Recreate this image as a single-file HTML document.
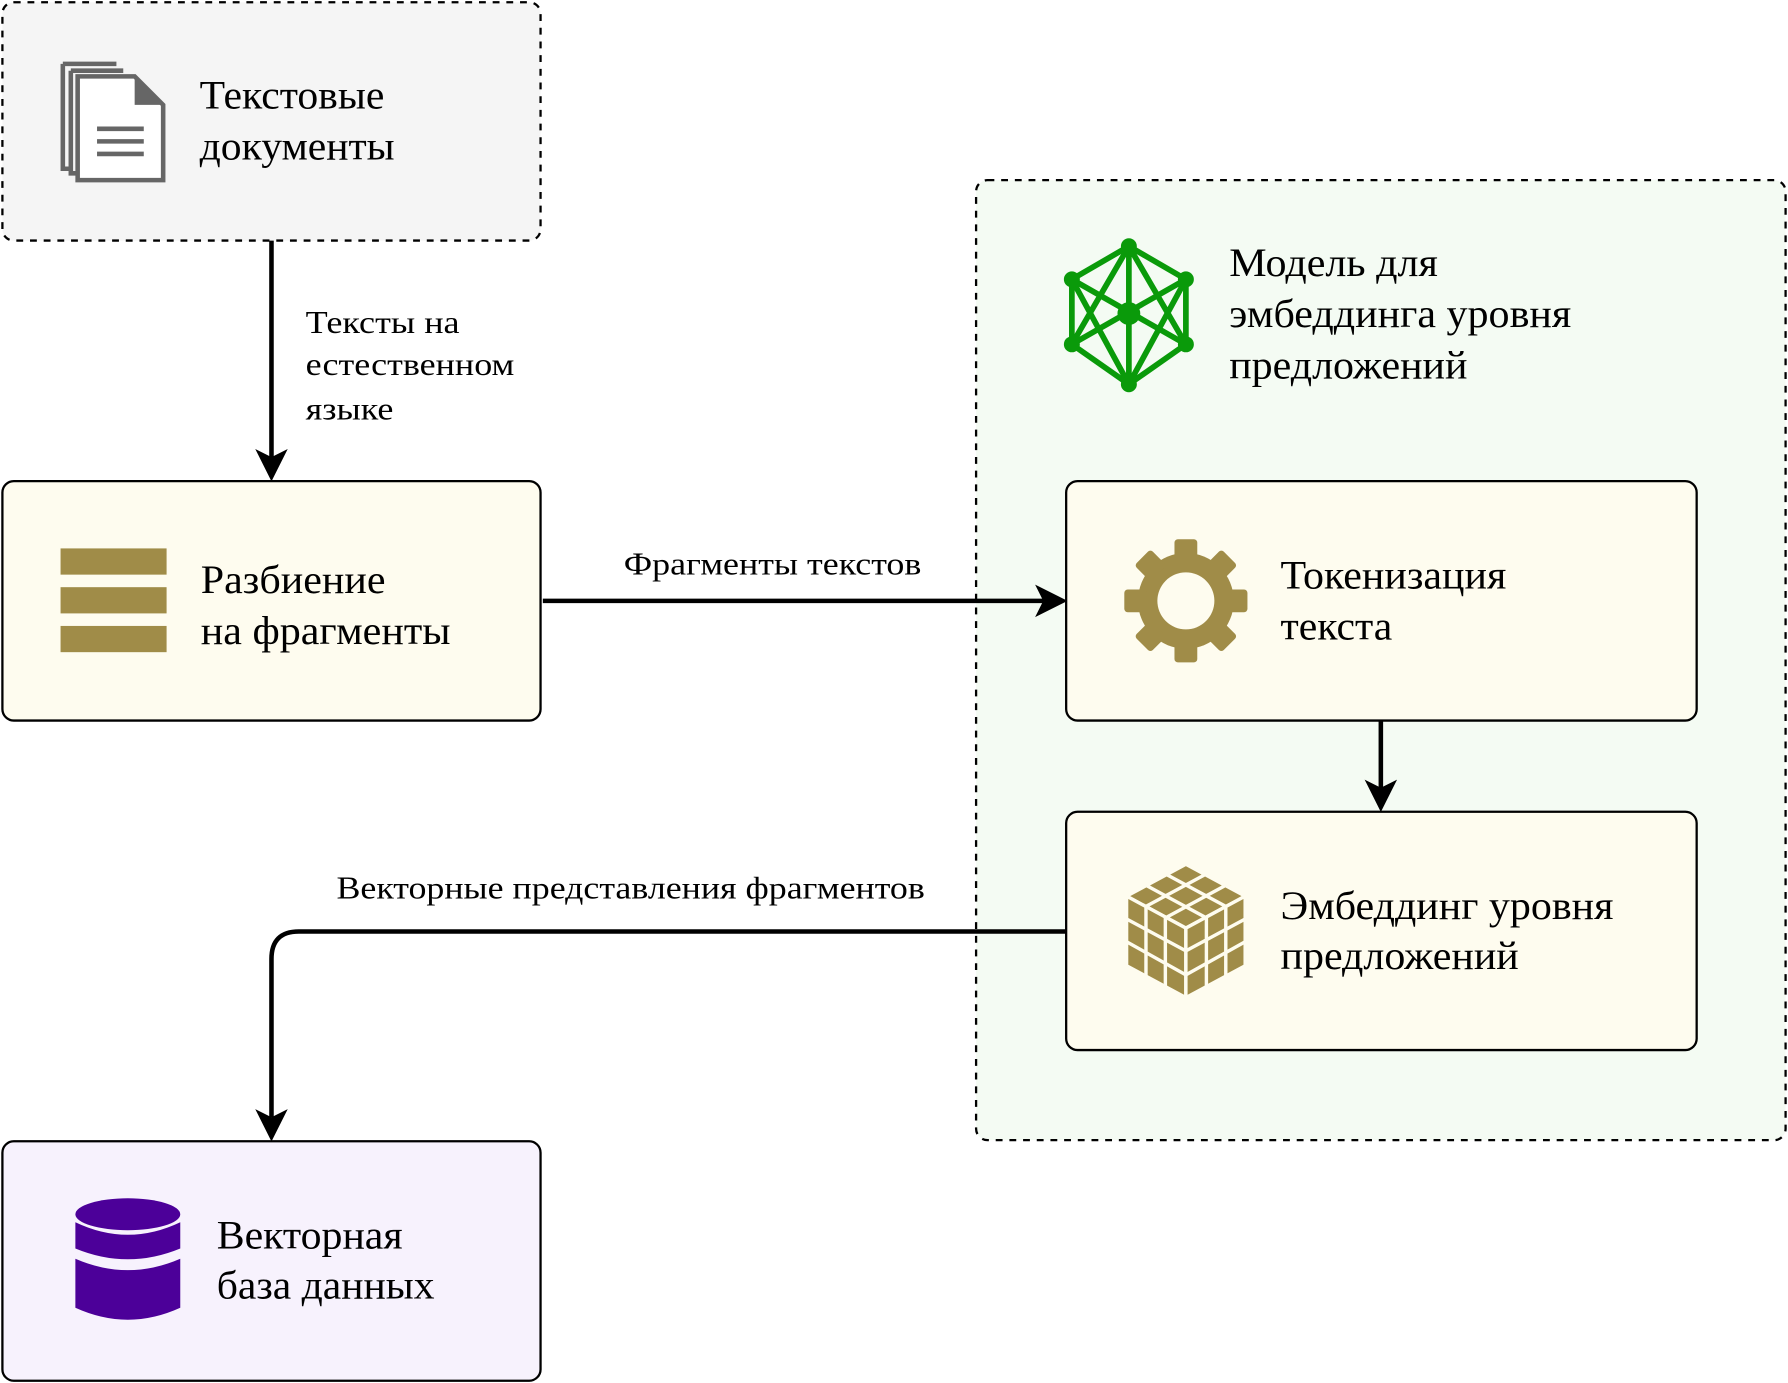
<!DOCTYPE html>
<html><head><meta charset="utf-8"><style>
html,body{margin:0;padding:0;background:#fff;}
svg{display:block;}
text{font-family:"Liberation Serif",serif;fill:#000;}
</style></head><body>
<svg width="1788" height="1383" viewBox="0 0 1568 1213" xmlns="http://www.w3.org/2000/svg">
<!-- green container -->
<rect x="856" y="158" width="710" height="842" rx="10" fill="#f4fbf3" stroke="#000" stroke-width="2" stroke-dasharray="6 6"/>
<!-- box1 -->
<rect x="2" y="2" width="472" height="209" rx="10" fill="#f5f5f5" stroke="#000" stroke-width="2" stroke-dasharray="6 6"/>
<g fill="none" stroke="#666" stroke-width="4">
<path d="M55 56 H102 M55 56 V148 H62"/>
<path d="M62 62 H108 M62 62 V152 H68"/>
</g>
<path d="M68 67 H118 L143 92 V158 H68 Z" fill="#fff" stroke="#666" stroke-width="4"/>
<path d="M118 67 V92 H143 Z" fill="#666"/>
<g stroke="#666" stroke-width="4"><line x1="85" y1="113" x2="126" y2="113"/><line x1="85" y1="124" x2="126" y2="124"/><line x1="85" y1="135" x2="126" y2="135"/></g>
<text x="175" y="95" font-size="35" textLength="162" lengthAdjust="spacingAndGlyphs">Текстовые</text>
<text x="175" y="140" font-size="35" textLength="171" lengthAdjust="spacingAndGlyphs">документы</text>
<!-- arrow 1 -->
<line x1="238" y1="211" x2="238" y2="402" stroke="#000" stroke-width="4"/>
<path d="M226 396 L238 420 L250 396 L238 402 Z" fill="#000" stroke="#000" stroke-width="2"/>
<text x="268" y="292" font-size="28" textLength="135" lengthAdjust="spacingAndGlyphs">Тексты на</text>
<text x="268" y="329" font-size="28" textLength="183" lengthAdjust="spacingAndGlyphs">естественном</text>
<text x="268" y="368" font-size="28" textLength="77" lengthAdjust="spacingAndGlyphs">языке</text>
<!-- box2 -->
<rect x="2" y="422" width="472" height="210" rx="10" fill="#fefcef" stroke="#000" stroke-width="2"/>
<g fill="#a08c48"><rect x="53" y="481" width="93" height="23"/><rect x="53" y="515" width="93" height="23"/><rect x="53" y="549" width="93" height="23"/></g>
<text x="176" y="520" font-size="35" textLength="162" lengthAdjust="spacingAndGlyphs">Разбиение</text>
<text x="176" y="565" font-size="35" textLength="219" lengthAdjust="spacingAndGlyphs">на фрагменты</text>
<!-- arrow 2 -->
<line x1="476" y1="527" x2="916" y2="527" stroke="#000" stroke-width="4"/>
<path d="M910 515 L934 527 L910 539 L916 527 Z" fill="#000" stroke="#000" stroke-width="2"/>
<text x="547" y="504" font-size="28" textLength="261" lengthAdjust="spacingAndGlyphs">Фрагменты текстов</text>
<!-- network icon -->
<g stroke="#0a9a0a" stroke-width="5" fill="none" stroke-linejoin="round">
<path d="M990 216 L1040 245 L1040 302 L990 337 L940 302 L940 245 Z"/>
<path d="M990 216 L940 302 M990 216 L1040 302 M990 337 L940 245 M990 337 L1040 245 M940 245 L1040 302 M1040 245 L940 302 M990 216 L990 337"/>
</g>
<g fill="#0a9a0a"><circle cx="990" cy="216" r="7"/><circle cx="940" cy="245" r="7"/><circle cx="1040" cy="245" r="7"/><circle cx="940" cy="302" r="7"/><circle cx="1040" cy="302" r="7"/><circle cx="990" cy="337" r="7"/><circle cx="990" cy="275" r="10"/></g>
<text x="1078" y="242" font-size="35" textLength="183" lengthAdjust="spacingAndGlyphs">Модель для</text>
<text x="1078" y="287" font-size="35" textLength="300" lengthAdjust="spacingAndGlyphs">эмбеддинга уровня</text>
<text x="1078" y="332" font-size="35" textLength="209" lengthAdjust="spacingAndGlyphs">предложений</text>
<!-- tokenization box -->
<rect x="935" y="422" width="553" height="210" rx="10" fill="#fefcef" stroke="#000" stroke-width="2"/>
<g transform="translate(1040,527)" fill="#a08c48">
<circle r="42"/>
<g id="t"><rect x="-10" y="-54" width="20" height="20" rx="3"/></g>
<use href="#t" transform="rotate(45)"/><use href="#t" transform="rotate(90)"/><use href="#t" transform="rotate(135)"/><use href="#t" transform="rotate(180)"/><use href="#t" transform="rotate(225)"/><use href="#t" transform="rotate(270)"/><use href="#t" transform="rotate(315)"/>
<circle r="25" fill="#fefcef"/>
</g>
<text x="1123" y="516" font-size="35" textLength="198" lengthAdjust="spacingAndGlyphs">Токенизация</text>
<text x="1123" y="561" font-size="35" textLength="98" lengthAdjust="spacingAndGlyphs">текста</text>
<!-- arrow 3 -->
<line x1="1211" y1="632" x2="1211" y2="692" stroke="#000" stroke-width="4"/>
<path d="M1199 686 L1211 710 L1223 686 L1211 692 Z" fill="#000" stroke="#000" stroke-width="2"/>
<!-- embedding box -->
<rect x="935" y="712" width="553" height="209" rx="10" fill="#fefcef" stroke="#000" stroke-width="2"/>
<g fill="#a08c48" stroke="#fefcef" stroke-width="3">
<path d="M1040 758 L1092 786 L1040 814 L988 786 Z"/>
<path d="M988 786 L1040 814 L1040 875 L988 847 Z"/>
<path d="M1092 786 L1040 814 L1040 875 L1092 847 Z"/>
<path d="M1005 795 L1005 856 M1022 805 L1022 866 M988 806 L1040 834 M988 826 L1040 855 M1075 795 L1075 856 M1058 805 L1058 866 M1092 806 L1040 834 M1092 826 L1040 855 M1057 767 L1005 795 M1074 777 L1022 805 M1023 767 L1075 795 M1006 777 L1058 805" fill="none"/>
</g>
<text x="1123" y="806" font-size="35" textLength="292" lengthAdjust="spacingAndGlyphs">Эмбеддинг уровня</text>
<text x="1123" y="850" font-size="35" textLength="209" lengthAdjust="spacingAndGlyphs">предложений</text>
<!-- arrow 4 -->
<path d="M935 817 H262 Q238 817 238 841 V980" fill="none" stroke="#000" stroke-width="4"/>
<path d="M226 975 L238 999 L250 975 L238 981 Z" fill="#000" stroke="#000" stroke-width="2"/>
<text x="295" y="788" font-size="28" textLength="516" lengthAdjust="spacingAndGlyphs">Векторные представления фрагментов</text>
<!-- db box -->
<rect x="2" y="1001" width="472" height="210" rx="10" fill="#f7f2fd" stroke="#000" stroke-width="2"/>
<g fill="#4c0099">
<ellipse cx="112" cy="1065" rx="46" ry="14"/>
<path d="M66 1072 Q112 1094 158 1072 V1095 Q112 1114 66 1095 Z"/>
<path d="M66 1104 Q112 1124 158 1104 V1147 Q112 1168 66 1147 Z"/>
</g>
<text x="190" y="1095" font-size="35" textLength="163" lengthAdjust="spacingAndGlyphs">Векторная</text>
<text x="190" y="1139" font-size="35" textLength="191" lengthAdjust="spacingAndGlyphs">база данных</text>
</svg>
</body></html>
